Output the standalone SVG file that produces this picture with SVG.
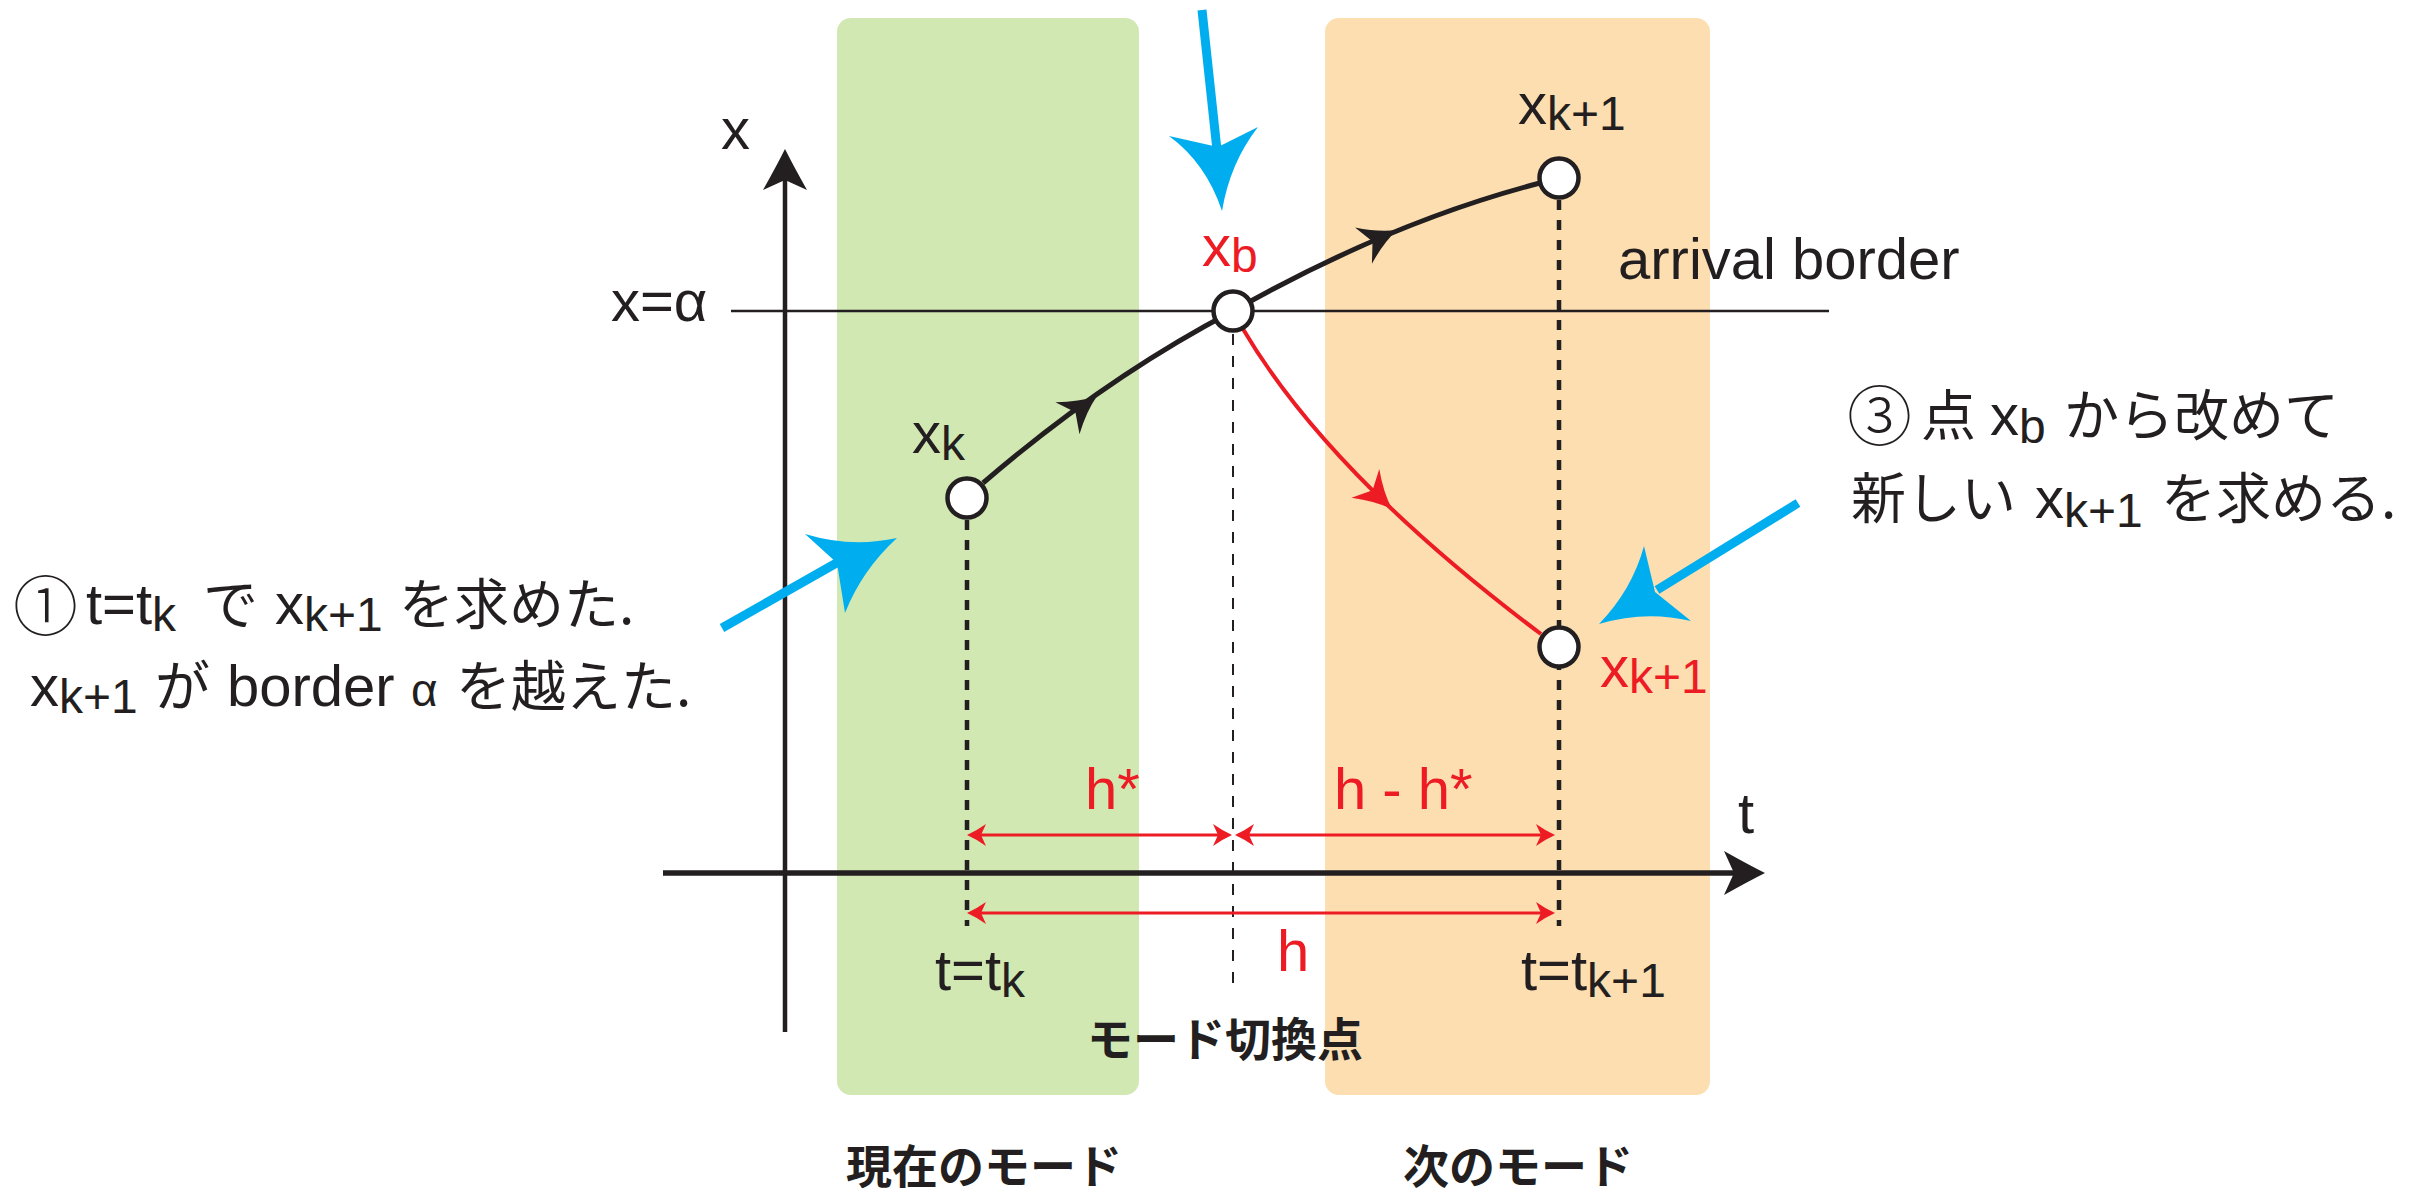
<svg xmlns="http://www.w3.org/2000/svg" xmlns:xlink="http://www.w3.org/1999/xlink" width="2427" height="1196" viewBox="0 0 2427 1196">
<style>
.t{font-family:"Liberation Sans","Noto Sans CJK JP",sans-serif;font-size:58px;fill:#231f20}
.s{font-size:48px}
.red{fill:#ed1c24}
.j{font-family:"Noto Sans CJK JP",sans-serif;font-size:55px}
.c{font-family:"Noto Sans CJK JP",sans-serif;font-size:65px;font-weight:300}
.b{font-family:"Noto Sans CJK JP",sans-serif;font-weight:700;font-size:46px;fill:#231f20}
.node{fill:#fff;stroke:#231f20;stroke-width:4.5}
.dashk{stroke:#231f20;stroke-width:4.5;stroke-dasharray:10 10;fill:none}
.dashb{stroke:#231f20;stroke-width:2;stroke-dasharray:11 11;fill:none}
.dim{stroke:#ed1c24;stroke-width:3;fill:none}
.blue{stroke:#00aeef;stroke-width:9;fill:none}
</style>
<defs>
<path id="ah" d="M0,0 Q-18,-6 -37,-20 L-27,0 L-37,20 Q-18,6 0,0 Z"/>
<path id="axh" d="M0,0 Q-16,-8 -41,-22 L-31,0 L-41,22 Q-16,8 0,0 Z" fill="#231f20"/>
<path id="dh" d="M0,0 Q-9,-4 -19,-11 L-14,0 L-19,11 Q-9,4 0,0 Z" fill="#ed1c24"/>
</defs>
<rect width="2427" height="1196" fill="#fff"/>

<g id="mode-current">
<rect x="837" y="18" width="302" height="1077" rx="14" fill="#d1e8b3"/>
<text class="b" x="846" y="1183">現在のモード</text>
</g>
<g id="mode-next">
<rect x="1325" y="18" width="385" height="1077" rx="14" fill="#fcdeb0"/>
<text class="b" x="1403" y="1183">次のモード</text>
</g>

<g id="axes">
<line x1="731" y1="311" x2="1829" y2="311" stroke="#231f20" stroke-width="2.5"/>
<text class="t" x="611" y="321" font-size="50">x=α</text>
<text class="t" x="1618" y="279">arrival border</text>
<line x1="785" y1="1032" x2="785" y2="175" stroke="#231f20" stroke-width="4.5"/>
<use href="#axh" transform="translate(785,149) rotate(-90)"/>
<text class="t" x="721" y="149">x</text>
<line x1="663" y1="873" x2="1740" y2="873" stroke="#231f20" stroke-width="5.5"/>
<use href="#axh" transform="translate(1765,873)"/>
<text class="t" x="1738" y="833">t</text>
<text class="t" x="935" y="990">t=t<tspan class="s" dy="7">k</tspan></text>
<text class="t" x="1521" y="990">t=t<tspan class="s" dy="7">k+1</tspan></text>
</g>

<g id="connectors">
<line class="dashk" x1="967" y1="520" x2="967" y2="926"/>
<line class="dashk" x1="1559" y1="200" x2="1559" y2="926"/>
<line class="dashb" x1="1233" y1="334" x2="1233" y2="990"/>
<path d="M983,483 Q1105,378 1233,311 Q1390,222 1540,183" fill="none" stroke="#231f20" stroke-width="5"/>
<use href="#ah" fill="#231f20" transform="translate(1097,396) rotate(-37)"/>
<use href="#ah" fill="#231f20" transform="translate(1397,230) rotate(-25)"/>
<path d="M1243,329 Q1329,475 1541,634" fill="none" stroke="#ed1c24" stroke-width="4"/>
<use href="#ah" fill="#ed1c24" transform="translate(1392,509) rotate(44)"/>
<line class="dim" x1="972" y1="835" x2="1228" y2="835"/>
<use href="#dh" transform="translate(967,835) rotate(180)"/>
<use href="#dh" transform="translate(1232,835)"/>
<line class="dim" x1="1238" y1="835" x2="1550" y2="835"/>
<use href="#dh" transform="translate(1235,835) rotate(180)"/>
<use href="#dh" transform="translate(1555,835)"/>
<line class="dim" x1="972" y1="913" x2="1550" y2="913"/>
<use href="#dh" transform="translate(967,913) rotate(180)"/>
<use href="#dh" transform="translate(1555,913)"/>
<text class="t red" x="1085" y="809">h*</text>
<text class="t red" x="1334" y="809">h - h*</text>
<text class="t red" x="1277" y="971">h</text>
<line class="blue" x1="1202" y1="10" x2="1217" y2="150"/>
<path d="M1222,211 Q1206,163 1169,136 L1218,147 L1258,127 Q1230,163 1222,211 Z" fill="#00aeef"/>
<line class="blue" x1="722" y1="628" x2="840" y2="561"/>
<path d="M897,538 Q851,548 805,534 L837,563 L845,613 Q862,570 897,538 Z" fill="#00aeef"/>
<line class="blue" x1="1798" y1="503" x2="1657" y2="590"/>
<path d="M1599,624 Q1632,590 1644,546 L1655,592 L1691,621 Q1645,610 1599,624 Z" fill="#00aeef"/>
</g>

<g id="node-xk">
<circle class="node" cx="967" cy="498" r="19.5"/>
<text class="t" x="912" y="453">x<tspan class="s" dy="7">k</tspan></text>
</g>
<g id="node-xb">
<circle class="node" cx="1233" cy="311" r="19.5"/>
<text class="t red" x="1202" y="266">x<tspan class="s" dy="6">b</tspan></text>
</g>
<g id="node-xk1">
<circle class="node" cx="1559" cy="178" r="19.5"/>
<text class="t" x="1518" y="124">x<tspan class="s" dy="6">k+1</tspan></text>
</g>
<g id="node-xk1-new">
<circle class="node" cx="1559" cy="647" r="19.5" stroke="#ed1c24"/>
<text class="t red" x="1600" y="687">x<tspan class="s" dy="6">k+1</tspan></text>
</g>
<g id="mode-switch">
<text class="b" x="1087" y="1056">モード切換点</text>
</g>

<g id="note-1">
<text class="t"><tspan x="13" y="630" class="c">①</tspan><tspan x="86" y="624">t=t</tspan><tspan class="s" dy="7">k</tspan><tspan x="203" y="624" class="j">で</tspan><tspan x="275">x</tspan><tspan class="s" dy="7">k+1</tspan><tspan x="399" y="624" class="j">を求めた.</tspan></text>
<text class="t" y="706"><tspan x="30">x</tspan><tspan class="s" dy="7">k+1</tspan><tspan x="155" dy="-7" class="j">が</tspan><tspan x="227">border</tspan><tspan x="411" font-size="46">α</tspan><tspan x="456" class="j">を越えた.</tspan></text>
</g>
<g id="note-3">
<text class="t"><tspan x="1847" y="440" class="c">③</tspan><tspan x="1921" y="435" class="j">点</tspan><tspan x="1990">x</tspan><tspan class="s" dy="8">b</tspan><tspan x="2064" y="435" class="j">から改めて</tspan></text>
<text class="t" y="518"><tspan x="1851" class="j">新しい</tspan><tspan x="2035">x</tspan><tspan class="s" dy="9">k+1</tspan><tspan x="2161" dy="-9" class="j">を求める.</tspan></text>
</g>
</svg>
